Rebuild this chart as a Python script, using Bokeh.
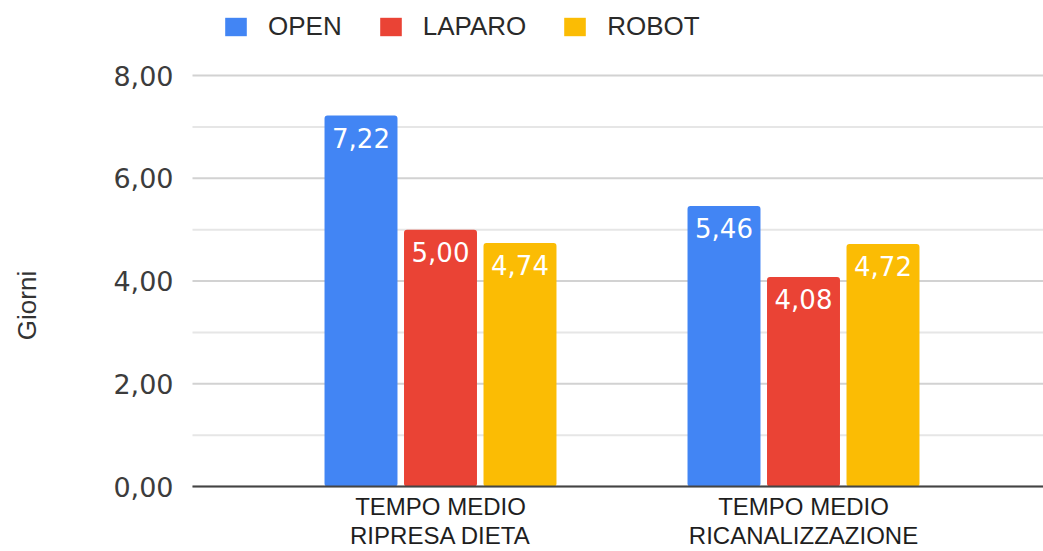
import math
from bokeh.plotting import figure
from bokeh.models import ColumnDataSource, Range1d, Legend, LegendItem
from bokeh.core.properties import value
from bokeh.embed import file_html
from bokeh.resources import INLINE

# ---- data ----
categories = ["TEMPO MEDIO\nRIPRESA DIETA", "TEMPO MEDIO\nRICANALIZZAZIONE"]
series_names = ["OPEN", "LAPARO", "ROBOT"]
open_vals = [7.22, 5.46]
laparo_vals = [5.00, 4.08]
robot_vals = [4.74, 4.72]
y_ticks = [0, 2, 4, 6, 8]
y_tick_labels = ["0,00", "2,00", "4,00", "6,00", "8,00"]
y_minor_ticks = [1, 3, 5, 7]
y_title = "Giorni"
colors = ["#4285F4", "#EA4335", "#FBBC04"]

# ---- layout constants (pixels) ----
W, H = 1043, 551
GRID_LEFT_PX = 192
ZERO_PX = 486
PX_PER_Y = 411 / 8.0
PX_PER_CAT = 363.0
FIRST_CENTER_PX = 440

x_start = 0.5 - FIRST_CENTER_PX / PX_PER_CAT
x_end = x_start + W / PX_PER_CAT
y_end = ZERO_PX / PX_PER_Y
y_start = -(H - ZERO_PX) / PX_PER_Y
x_grid0 = x_start + GRID_LEFT_PX / PX_PER_CAT

offsets = [-0.219, 0.0, 0.219]
bar_w = 0.201

p = figure(width=W, height=H, x_range=Range1d(x_start, x_end), y_range=Range1d(y_start, y_end),
           output_backend="svg", toolbar_location=None,
           min_border_left=0, min_border_right=0, min_border_top=0, min_border_bottom=0)
p.outline_line_color = None
p.xaxis.visible = False
p.yaxis.visible = False
p.xgrid.visible = False
p.ygrid.visible = False

# gridlines
p.segment(x0=[x_grid0] * len(y_minor_ticks), x1=[x_end] * len(y_minor_ticks),
          y0=y_minor_ticks, y1=y_minor_ticks, line_color="#e6e6e6", line_width=2)
p.segment(x0=[x_grid0] * len(y_ticks), x1=[x_end] * len(y_ticks),
          y0=y_ticks, y1=y_ticks, line_color="#d2d2d2", line_width=2)

# y tick labels
p.text(x=[x_grid0] * len(y_ticks), y=y_ticks, text=y_tick_labels, text_align="right",
       text_baseline="middle", x_offset=-19, text_color="#3c3c3c",
       text_font=value("DejaVu Sans"), text_font_size="27px")

series_vals = [open_vals, laparo_vals, robot_vals]
centers = [i + 0.5 for i in range(len(categories))]

def fmt(v):
    return f"{v:.2f}".replace(".", ",")

renderers = []
for name, vals, off, col in zip(series_names, series_vals, offsets, colors):
    src = ColumnDataSource(dict(x=[c + off for c in centers], top=vals,
                                lab=[fmt(v) for v in vals]))
    r = p.vbar(x="x", top="top", bottom=0, width=bar_w, source=src, fill_color=col,
               line_color=None, border_radius=3)
    renderers.append(r)
    p.text(x="x", y="top", text="lab", source=src, text_align="center", text_baseline="top",
           y_offset=12, text_color="white", text_font=value("DejaVu Sans"),
           text_font_size="26px")

# axis baseline
p.segment(x0=[x_grid0], x1=[x_end], y0=[0], y1=[0], line_color="#444444", line_width=2)

# category labels
cat_src = ColumnDataSource(dict(x=centers, y=[0] * len(categories), t=categories))
p.text(x="x", y="y", text="t", source=cat_src, text_align="center", text_baseline="top",
       y_offset=6, text_color="#1e1e1e", text_font=value("Liberation Sans"),
       text_font_size="24px", text_line_height=1.1)

# y title
p.text(x=[x_start + 26 / PX_PER_CAT], y=[(ZERO_PX - 305) / PX_PER_Y], text=[y_title],
       angle=math.pi / 2, text_align="center", text_baseline="middle",
       text_font=value("Liberation Sans"), text_font_size="26px", text_color="#333333")

legend = Legend(items=[LegendItem(label=n, renderers=[r]) for n, r in zip(series_names, renderers)],
                orientation="horizontal", location=(222, 509), border_line_color=None,
                background_fill_alpha=0, padding=0, spacing=35, label_standoff=19,
                glyph_width=27, glyph_height=23, label_text_font="Liberation Sans",
                label_text_font_size="26px", label_text_color="#2a2a2a", margin=0)
p.add_layout(legend)

open("out.html", "w").write(file_html(p, INLINE))
